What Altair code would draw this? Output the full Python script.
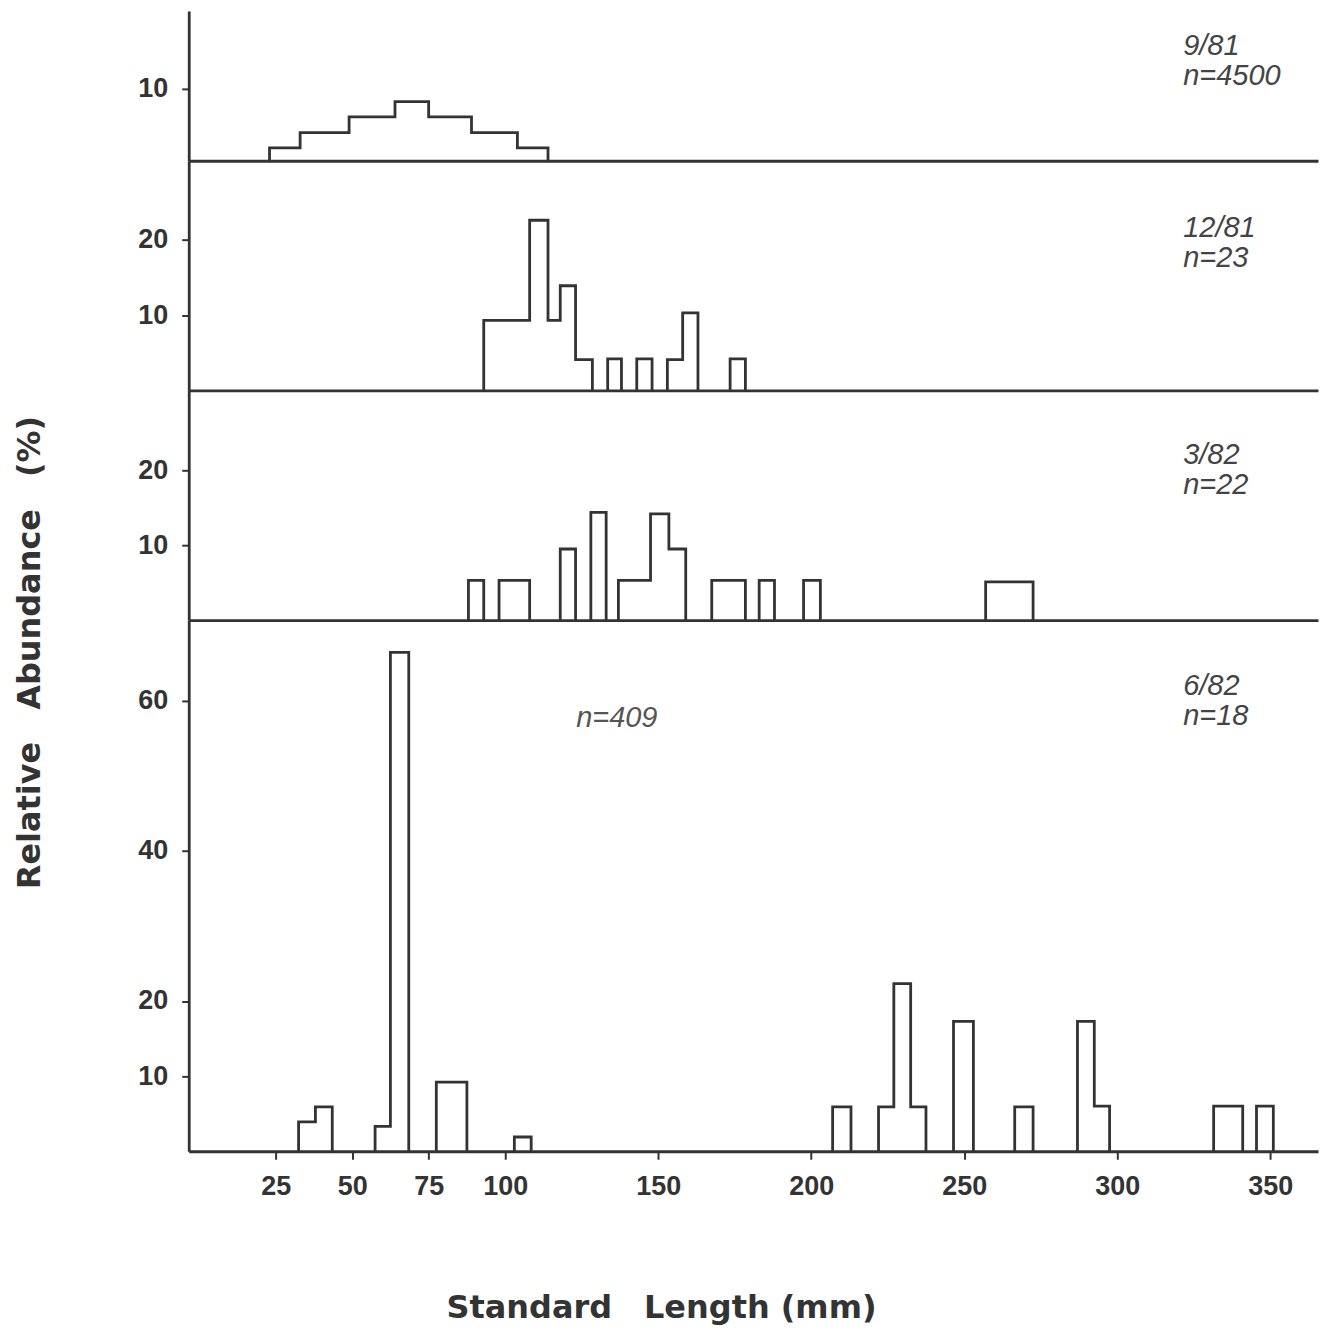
import altair as alt
import pandas as pd

# ---------------- data ----------------
# Panel 1: 9/81, n=4500
p1_left = [23, 33, 49, 64, 75, 89, 104]
p1_right = [33, 49, 64, 75, 89, 104, 114]
p1_pct = [1.8, 3.9, 6.1, 8.2, 6.1, 3.9, 1.8]

# Panel 2: 12/81, n=23
p2_left = [93, 108, 114, 118, 123, 133.5, 143, 153, 158, 173.5]
p2_right = [108, 114, 118, 123, 128.5, 138, 148, 158, 163, 178.5]
p2_pct = [9.3, 22.6, 9.3, 13.9, 4.1, 4.2, 4.2, 4.1, 10.3, 4.2]

# Panel 3: 3/82, n=22
p3_left = [88, 98, 118, 128, 137, 147.5, 153.5, 167.5, 183, 197.5, 257]
p3_right = [93, 108, 123, 133, 147.5, 153.5, 159, 178.5, 188, 203, 272.5]
p3_pct = [5.3, 5.3, 9.5, 14.4, 5.3, 14.2, 9.5, 5.3, 5.3, 5.3, 5.1]

# Panel 4: 6/82, n=18 (and n=409)
p4_left = [32.5, 38, 57.5, 62.5, 77.5, 103, 207, 222, 227, 232.5, 246.5, 266.5, 287, 292.5, 331.5, 345.5]
p4_right = [38, 43.5, 62.5, 68.5, 87.5, 108.5, 213, 227, 232.5, 237.5, 253, 272.5, 292.5, 297.5, 341, 351]
p4_pct = [3.9, 5.9, 3.3, 66.4, 9.2, 1.9, 5.9, 5.9, 22.3, 5.9, 17.3, 5.9, 17.3, 6.0, 6.0, 6.0]

panel_labels = ["9/81\nn=4500", "12/81\nn=23", "3/82\nn=22", "6/82\nn=18"]
extra_label = "n=409"

x_ticks = [25, 50, 75, 100, 150, 200, 250, 300, 350]
y_ticks = [[10], [10, 20], [10, 20], [10, 20, 40, 60]]

x_title = "Standard\u2003Length (mm)"
y_title = "Relative\u2003Abundance\u2003(%)"

# ---------------- layout / style ----------------
X_DOMAIN = [-3.4, 365.6]
WIDTH = 1131
HEIGHTS = [150, 230, 230, 532]
Y_MAX = [20.8, 30.5, 30.7, 70.7]
INK = "#333333"
LABEL_POS = [(44, 996), (76, 996), (74, 996), (75, 996)]


def outline(left, right, pct):
    """Turn histogram bins into step-outline vertices (one run per contiguous block)."""
    rows = []
    run = 0
    prev_r = None
    for l, r, v in zip(left, right, pct):
        if prev_r is None or abs(l - prev_r) > 1e-9:
            if prev_r is not None:
                rows.append((prev_r, 0.0, run))
                run += 1
            rows.append((l, 0.0, run))
        rows.append((l, v, run))
        rows.append((r, v, run))
        prev_r = r
    rows.append((prev_r, 0.0, run))
    df = pd.DataFrame(rows, columns=["length", "pct", "run"])
    df["i"] = range(len(df))
    return df


def panel(idx, left, right, pct, bottom=False, ytitle=False):
    df = outline(left, right, pct)
    if bottom:
        xaxis = alt.Axis(values=x_ticks, title=x_title, grid=False,
                         tickSize=8, tickWidth=2, tickColor=INK,
                         domainColor=INK, domainWidth=2.8,
                         labelFont="Liberation Sans", labelFontSize=27, labelFontWeight="bold",
                         labelColor=INK, labelPadding=14, labelFlush=False,
                         titleFont="DejaVu Sans", titleFontSize=32, titleFontWeight="bold",
                         titleColor=INK, titleX=473, titleY=156,
                         titleAlign="center", titleBaseline="middle")
    else:
        xaxis = alt.Axis(labels=False, ticks=False, title=None, grid=False,
                         domainColor=INK, domainWidth=2.8)
    yargs = dict(values=y_ticks[idx], grid=False, tickSize=7, tickWidth=2, tickColor=INK,
                 domainColor=INK, domainWidth=2.8,
                 labelFont="Liberation Sans", labelFontSize=27, labelFontWeight="bold",
                 labelColor=INK, labelPadding=14)
    if ytitle:
        yargs.update(title=y_title, titleFont="DejaVu Sans",
                     titleFontSize=32, titleFontWeight="bold", titleColor=INK,
                     titleAngle=270, titleX=-159, titleY=262,
                     titleAlign="center", titleBaseline="middle")
    else:
        yargs.update(title=None)
    yaxis = alt.Axis(**yargs)

    line = alt.Chart(df).mark_line(color=INK, strokeWidth=2.8, strokeJoin="miter",
                                   strokeCap="square").encode(
        x=alt.X("length:Q", scale=alt.Scale(domain=X_DOMAIN, nice=False, zero=False), axis=xaxis),
        y=alt.Y("pct:Q", scale=alt.Scale(domain=[0, Y_MAX[idx]], nice=False), axis=yaxis),
        detail="run:N",
        order="i:Q",
    )
    ly, lx = LABEL_POS[idx]
    lab = alt.Chart(pd.DataFrame({"t": [panel_labels[idx]]})).mark_text(
        align="left", baseline="alphabetic", font="Liberation Sans", fontStyle="italic",
        fontSize=29, color="#444", lineBreak="\n", lineHeight=30,
    ).encode(text="t:N", x=alt.value(lx), y=alt.value(ly))
    layers = [line, lab]
    if idx == 3:
        extra = alt.Chart(pd.DataFrame({"t": [extra_label]})).mark_text(
            align="left", baseline="alphabetic", font="Liberation Sans", fontStyle="italic",
            fontSize=29, color="#555",
        ).encode(text="t:N", x=alt.value(388), y=alt.value(107))
        layers.append(extra)
    return alt.layer(*layers).properties(width=WIDTH, height=HEIGHTS[idx])


p1 = panel(0, p1_left, p1_right, p1_pct)
p2 = panel(1, p2_left, p2_right, p2_pct)
p3 = panel(2, p3_left, p3_right, p3_pct, ytitle=True)
p4 = panel(3, p4_left, p4_right, p4_pct, bottom=True)

chart = alt.vconcat(p1, p2, p3, p4, spacing=0, bounds="flush").properties(
    padding={"left": 5, "top": 2, "right": 2, "bottom": 2},
    background="white",
).configure_view(stroke=None)

chart.save("out.html", embed_options={"renderer": "svg", "actions": False})
